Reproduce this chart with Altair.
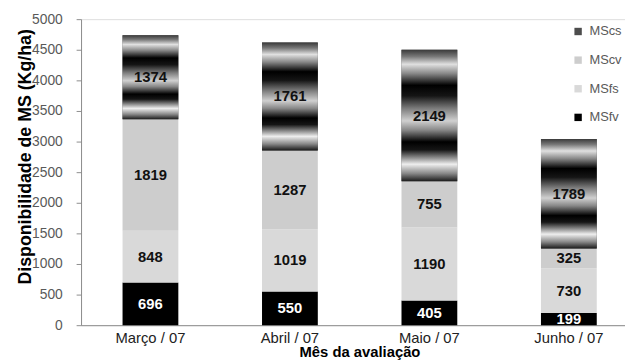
import altair as alt
import pandas as pd

months = ["Março / 07", "Abril / 07", "Maio / 07", "Junho / 07"]
series_names = ["MSfv", "MSfs", "MScv", "MScs"]
msfv = [696, 550, 405, 199]
msfs = [848, 1019, 1190, 730]
mscv = [1819, 1287, 755, 325]
mscs = [1374, 1761, 2149, 1789]
y_ticks = list(range(0, 5001, 500))

rows = []
for i, m in enumerate(months):
    for k, (s, vals) in enumerate(zip(series_names, [msfv, msfs, mscv, mscs])):
        rows.append({"month": m, "series": s, "value": vals[i], "order": k})
df = pd.DataFrame(rows)

FONT = "Liberation Sans"

xscale = alt.Scale(domain=months, paddingInner=0.6, paddingOuter=0.25, align=0.595)
yscale = alt.Scale(domain=[0, 5000], nice=False, zero=True)

xaxis = alt.Axis(title="Mês da avaliação", labelAngle=0, ticks=False, grid=False,
                 labelPadding=6, labelFontSize=15, labelColor="#222222",
                 labelFont=FONT, titleFont=FONT, titleFontSize=15,
                 titleFontWeight="bold", titleColor="#000000",
                 titleX=282, titleY=35, titleBaseline="bottom",
                 domainColor="#8c8c8c", orient="bottom")
yaxis = alt.Axis(title="Disponibilidade de MS (Kg/ha)", values=y_ticks, format="d",
                 tickSize=5, tickColor="#8c8c8c", domainColor="#8c8c8c",
                 labelPadding=14, labelFontSize=14, labelColor="#595959",
                 labelFont=FONT, titleFont=FONT, titleFontSize=18,
                 titleFontWeight="bold", titleColor="#000000",
                 titleX=-56, titleY=139, titleAlign="center", titleAngle=270,
                 titleBaseline="middle", grid=False, orient="left")

X = alt.X("month:N", scale=xscale, sort=months, axis=xaxis)

base = alt.Chart(df).transform_stack(
    stack="value", groupby=["month"], as_=["y0", "y1"],
    sort=[alt.SortField("order", order="ascending")]
).transform_calculate(mid="(datum.y0 + datum.y1) / 2")

bars = base.mark_bar().encode(
    x=X,
    y=alt.Y("y0:Q", scale=yscale, axis=yaxis),
    y2="y1:Q",
    color=alt.Color("series:N",
                    scale=alt.Scale(domain=["MScs", "MScv", "MSfs", "MSfv"],
                                    range=["#4d4d4d", "#cdcdcd", "#d9d9d9", "#000000"]),
                    legend=alt.Legend(title=None, orient="none", legendX=497, legendY=6,
                                      symbolType="square", symbolSize=56,
                                      symbolStrokeWidth=0, labelFontSize=13,
                                      labelColor="#595959", labelFont=FONT,
                                      rowPadding=15, labelOffset=5, padding=0)),
)

grad = alt.LinearGradient(
    gradient="linear", x1=0, y1=0, x2=0, y2=1,
    stops=[
        alt.GradientStop(offset=0.0, color="#3a3a3a"),
        alt.GradientStop(offset=0.05, color="#777777"),
        alt.GradientStop(offset=0.11, color="#e0e0e0"),
        alt.GradientStop(offset=0.18, color="#888888"),
        alt.GradientStop(offset=0.27, color="#000000"),
        alt.GradientStop(offset=0.35, color="#151515"),
        alt.GradientStop(offset=0.45, color="#808080"),
        alt.GradientStop(offset=0.54, color="#d0d0d0"),
        alt.GradientStop(offset=0.61, color="#888888"),
        alt.GradientStop(offset=0.70, color="#000000"),
        alt.GradientStop(offset=0.76, color="#151515"),
        alt.GradientStop(offset=0.87, color="#eeeeee"),
        alt.GradientStop(offset=0.94, color="#888888"),
        alt.GradientStop(offset=1.0, color="#1a1a1a"),
    ],
)

stripes = base.transform_filter(alt.datum.series == "MScs").mark_bar(color=grad).encode(
    x=X,
    y=alt.Y("y0:Q", scale=yscale, axis=yaxis),
    y2="y1:Q",
)

labels = base.mark_text(font=FONT, fontSize=15, fontWeight="bold", baseline="middle").encode(
    x=X,
    y=alt.Y("mid:Q", scale=yscale, axis=yaxis),
    text=alt.Text("value:Q"),
    color=alt.condition(alt.datum.series == "MSfv", alt.value("#ffffff"), alt.value("#111111")),
)

chart = alt.layer(bars, stripes, labels).properties(
    width=551, height=310,
    autosize=alt.AutoSizeParams(type="none"),
    padding={"left": 74, "top": 9, "right": 0, "bottom": 36},
).configure_view(stroke=None).configure(background="#ffffff")

chart.save("out.html", embed_options={"renderer": "svg", "actions": False})
